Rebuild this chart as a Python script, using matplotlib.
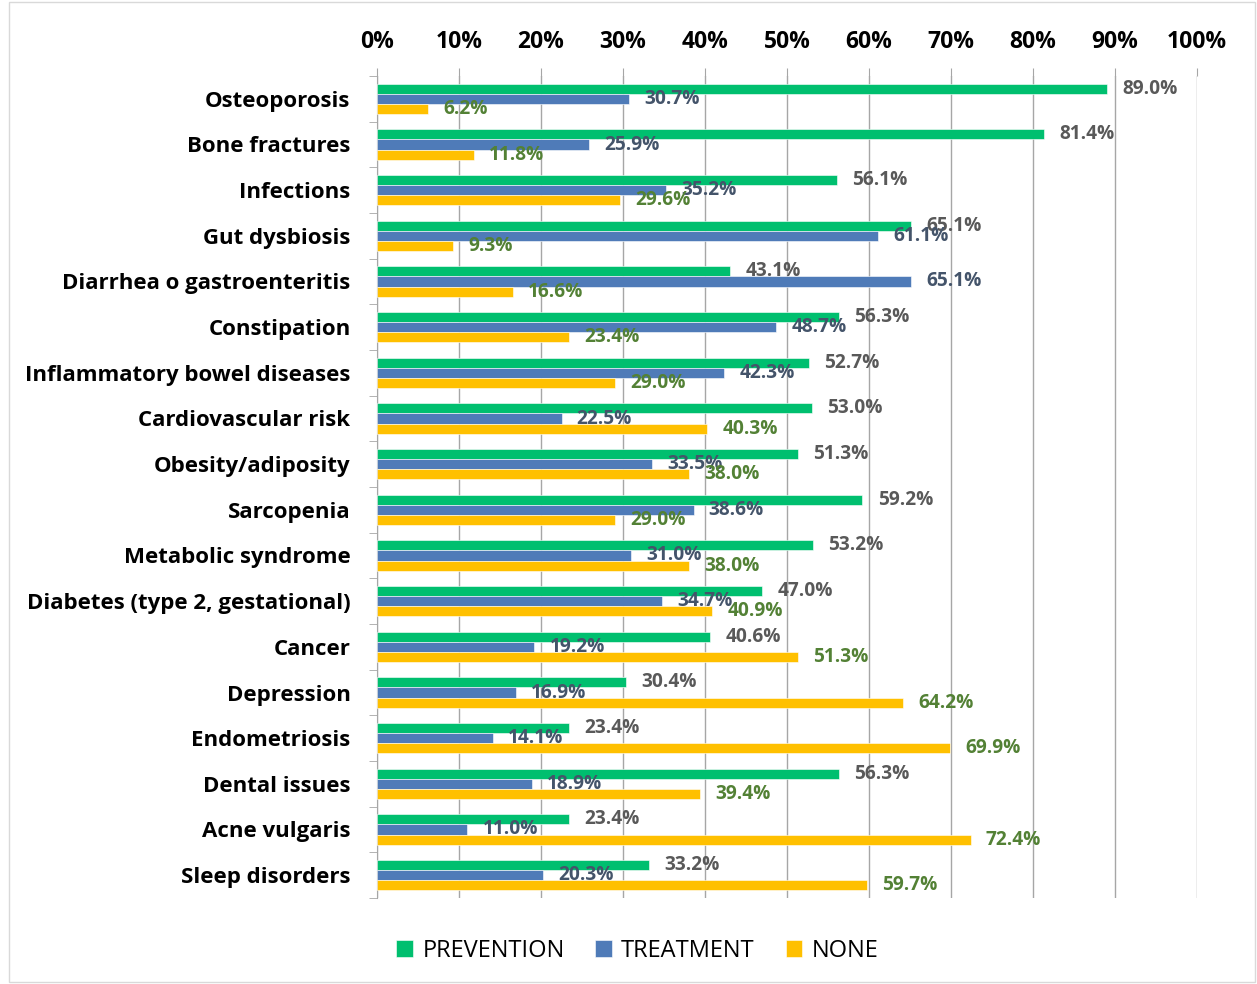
import numpy as np
import matplotlib
matplotlib.use("Agg")
import matplotlib.pyplot as plt
from matplotlib.patches import Rectangle

categories = [
    "Osteoporosis", "Bone fractures", "Infections", "Gut dysbiosis",
    "Diarrhea o gastroenteritis", "Constipation", "Inflammatory bowel diseases",
    "Cardiovascular risk", "Obesity/adiposity", "Sarcopenia", "Metabolic syndrome",
    "Diabetes (type 2, gestational)", "Cancer", "Depression", "Endometriosis",
    "Dental issues", "Acne vulgaris", "Sleep disorders",
]
prevention = [89.0, 81.4, 56.1, 65.1, 43.1, 56.3, 52.7, 53.0, 51.3, 59.2,
              53.2, 47.0, 40.6, 30.4, 23.4, 56.3, 23.4, 33.2]
treatment = [30.7, 25.9, 35.2, 61.1, 65.1, 48.7, 42.3, 22.5, 33.5, 38.6,
             31.0, 34.7, 19.2, 16.9, 14.1, 18.9, 11.0, 20.3]
none = [6.2, 11.8, 29.6, 9.3, 16.6, 23.4, 29.0, 40.3, 38.0, 29.0,
        38.0, 40.9, 51.3, 64.2, 69.9, 39.4, 72.4, 59.7]
series_names = ["PREVENTION", "TREATMENT", "NONE"]
xticks = list(range(0, 101, 10))

plt.rcParams['font.family'] = ['Open Sans', 'DejaVu Sans']

colors = ['#00BF6F', '#4F7BB8', '#FFC000']
label_colors = ['#595959', '#44546A', '#538135']

fig = plt.figure(figsize=(12.57, 9.84), dpi=100)
ax = fig.add_axes([377/1257, 1 - 898/984, (1197-377)/1257, (898-76)/984])

y = np.arange(len(categories))
h = 0.22
offsets = [-h, 0, h]
for vals, off, c, lc, name in zip([prevention, treatment, none], offsets, colors, label_colors, series_names):
    bars = ax.barh(y + off, vals, height=h, color=c, edgecolor='white', linewidth=0.4, label=name, zorder=3)
    for b, v in zip(bars, vals):
        ax.annotate(f"{v:.1f}%", (v, b.get_y() + b.get_height()/2), xytext=(11, 0),
                    textcoords='offset points', va='center', ha='left',
                    fontsize=13.8, fontweight='bold', color=lc, zorder=4)

ax.set_xlim(0, 100)
ax.set_ylim(len(categories) - 0.5, -0.5)
ax.xaxis.tick_top()
ax.set_xticks(xticks)
ax.set_xticklabels([f"{t}%" for t in xticks], fontsize=16.5, fontweight='bold')
ax.tick_params(axis='x', which='major', length=6, color='#A6A6A6', pad=10, top=True, bottom=False)
ax.grid(axis='x', color='#A6A6A6', linewidth=1, zorder=0)

ax.set_yticks(y)
ax.set_yticklabels(categories, fontsize=16, fontweight='bold')
ax.set_yticks(np.arange(len(categories) + 1) - 0.5, minor=True)
ax.tick_params(axis='y', which='major', length=0, pad=19)
ax.tick_params(axis='y', which='minor', length=6, color='#A6A6A6')

for s in ['top', 'right', 'bottom']:
    ax.spines[s].set_visible(False)
ax.spines['left'].set_color('#A6A6A6')

fig.legend(*ax.get_legend_handles_labels(), loc='center', bbox_to_anchor=(0.507, 1 - 951/984),
           ncol=3, frameon=False, fontsize=17, handlelength=0.7, handleheight=0.7,
           columnspacing=1.3, handletextpad=0.4)

fig.patches.append(Rectangle((9/1257, 2/984), 1246/1257, 980/984, transform=fig.transFigure,
                             fill=False, edgecolor='#D9D9D9', linewidth=1))

fig.savefig("out.png", dpi=100)
